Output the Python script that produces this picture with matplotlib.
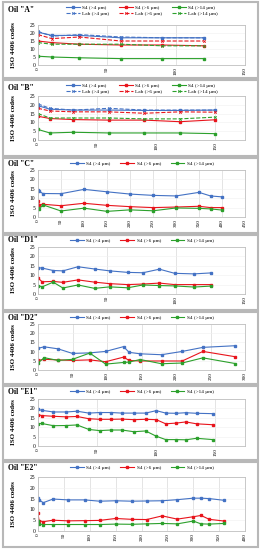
import matplotlib
matplotlib.use("Agg")
import matplotlib.pyplot as plt
from matplotlib.patches import Rectangle
import numpy as np

plt.rcParams['font.family'] = ['Liberation Serif', 'DejaVu Serif']

# ---- data ----
# Oil A
xA = [0, 10, 30, 60, 90, 120]
A_s4_4 = [20.5, 18.5, 18.5, 17, 17, 17]
A_s4_6 = [15, 14, 13, 12.5, 12.5, 12]
A_s4_14 = [5.5, 5, 4.5, 4, 4, 4]
A_lab_4 = [21, 18, 19, 17.5, 17, 17]
A_lab_6 = [19, 16.5, 17.5, 15, 15, 15]
A_lab_14 = [14, 13, 13, 13, 12, 12]

# Oil B
xB = [0, 10, 30, 60, 90, 120, 150]
B_s4_4 = [19.5, 17.5, 17, 17, 16.8, 16.8, 17]
B_s4_6 = [13.5, 12.2, 11.6, 11.3, 11.3, 10.4, 11.5]
B_s4_14 = [6, 4, 4.4, 4, 4, 4, 3.6]
B_lab_4 = [20.5, 18, 17, 18, 17, 17, 17]
B_lab_6 = [18, 16.5, 16, 16, 15.2, 16, 15.8]
B_lab_14 = [15, 12.5, 12.5, 12.5, 12, 12, 13]

# Oil C
xC = [0, 3, 10, 50, 100, 150, 200, 250, 300, 350, 375, 400]
C_s4_4 = [14.2, 13.8, 12.5, 12.4, 14.7, 13.4, 12.2, 11.5, 11.2, 13.1, 11.2, 10.7]
C_s4_6 = [8.5, 6.5, 6.8, 6, 7.3, 6.2, 5.5, 5, 5.3, 5.7, 5, 5]
C_s4_14 = [5, 4, 6.5, 3.2, 4.7, 3, 3.8, 3.3, 4.8, 4.6, 4.3, 3.7]

# Oil D1
xD1 = [0, 3, 11, 18, 29, 41, 52, 65, 76, 88, 99, 113, 125]
D1_s4_4 = [14, 13.8, 12.5, 12.3, 14.5, 13.3, 12.3, 11.5, 11.3, 13.2, 11, 10.7, 11.2]
D1_s4_6 = [8.5, 6.5, 6.7, 6.2, 7.5, 6.3, 5.5, 5, 5.3, 5.8, 5, 5, 5]
D1_s4_14 = [4.5, 3.8, 6.3, 3.2, 4.8, 3, 3.8, 3.3, 4.8, 4.5, 4.3, 3.7, 4.2]

# Oil D2
xD2 = [0, 9, 29, 50, 75, 98, 124, 132, 148, 179, 209, 239, 286]
D2_s4_4 = [11.8, 12.6, 11.5, 9, 9.3, 10.1, 12.7, 9.6, 8.8, 8.3, 10.1, 12.3, 13.2]
D2_s4_6 = [5.2, 5.8, 5.5, 5.2, 5.5, 4.5, 7, 5.2, 4.9, 4.9, 4.9, 10.1, 7.2]
D2_s4_14 = [3.8, 6.7, 5.2, 5.8, 9.2, 3.2, 4.1, 4.3, 5.7, 3.4, 3.8, 6.6, 3.5]

# Oil E1
xE1 = [0, 3, 13, 24, 33, 43, 52, 62, 71, 81, 91, 100, 108, 117, 125, 134, 148]
E1_s4_4 = [19.5, 19, 18.1, 18.1, 18.5, 17.5, 17.8, 17.8, 17.5, 17.5, 17.5, 18.8,
           17.5, 17.4, 17.7, 17.4, 17.2]
E1_s4_6 = [16.7, 16.2, 15.8, 15.5, 15.7, 14.5, 14.2, 14.2, 14.3, 14, 14.2, 14,
           11.8, 12.2, 12.8, 11.8, 11.3]
E1_s4_14 = [11.8, 12, 10.8, 10.9, 11.2, 8.8, 8.2, 8.5, 8.5, 7.6, 8.0, 5.2,
            3.4, 3.4, 3.3, 4.1, 3.4]

# Oil E2
xE2 = [0, 2, 10, 29, 58, 90, 119, 150, 181, 210, 240, 269, 300, 315, 331, 360]
E2_s4_4 = [15.4, 14.5, 13.1, 14.8, 14.4, 14.4, 13.8, 14, 13.8, 13.9, 14, 14.5,
           15.2, 15.2, 15, 14.2]
E2_s4_6 = [8.2, 4.8, 4.3, 5, 4.7, 4.8, 4.9, 5.8, 5.4, 5.3, 7, 5.5, 6.6, 7.2, 5.4, 4.6]
E2_s4_14 = [4.8, 3.2, 3, 3, 3, 3, 3, 3.2, 3.1, 3.3, 3.5, 3.3, 4.6, 3.3, 3.2, 3.5]

titles = ['Oil "A"', 'Oil "B"', 'Oil "C"', 'Oil "D1"', 'Oil "D2"', 'Oil "E1"', 'Oil "E2"']
xmaxs = [150, 175, 450, 150, 300, 175, 400]
series = [
    (xA, A_s4_4, A_s4_6, A_s4_14, A_lab_4, A_lab_6, A_lab_14),
    (xB, B_s4_4, B_s4_6, B_s4_14, B_lab_4, B_lab_6, B_lab_14),
    (xC, C_s4_4, C_s4_6, C_s4_14),
    (xD1, D1_s4_4, D1_s4_6, D1_s4_14),
    (xD2, D2_s4_4, D2_s4_6, D2_s4_14),
    (xE1, E1_s4_4, E1_s4_6, E1_s4_14),
    (xE2, E2_s4_4, E2_s4_6, E2_s4_14),
]

# layout in pixels: (box top, box bottom, plot top, plot bottom)
W, H = 261, 550
boxes = [(2, 78, 25, 65), (80, 156, 96, 140), (158, 233, 170, 217),
         (235, 310, 247, 294), (312, 384, 324, 370), (386, 460, 399, 446),
         (462, 547, 477, 531)]
left_px, right_px = 38, 245

blue, red, green = '#4472c4', '#e8141c', '#2ca02c'
labels_s4 = ['S4 (>4 µm)', 'S4 (>6 µm)', 'S4 (>14 µm)']
labels_lab = ['Lab (>4 µm)', 'Lab (>6 µm)', 'Lab (>14 µm)']

fig = plt.figure(figsize=(W / 100, H / 100), dpi=100)

for i, (bt, bb, pt, pb) in enumerate(boxes):
    fig.patches.append(Rectangle((3 / W, 1 - bb / H), (W - 6) / W, (bb - bt) / H,
                                 transform=fig.transFigure, fill=False,
                                 edgecolor='#b8b8b8', linewidth=1.5))
    ax = fig.add_axes([left_px / W, 1 - pb / H, (right_px - left_px) / W, (pb - pt) / H])
    data = series[i]
    x = data[0]
    handles = []
    for vals, c, lab in zip(data[1:4], (blue, red, green), labels_s4):
        h, = ax.plot(x, vals, '-', color=c, lw=0.8, marker='s', ms=1.5, label=lab)
        handles.append(h)
    two_rows = len(data) > 4
    if two_rows:
        for k, (vals, c, lab) in enumerate(zip(data[4:7], (blue, red, green), labels_lab)):
            h, = ax.plot(x, vals, '--', color=c, lw=0.8, marker='x', ms=1.8,
                         mew=0.6, label=lab)
            handles.insert(2 * k + 1, h)
    ax.set_xlim(0, xmaxs[i])
    ax.set_ylim(0, 25)
    ax.set_xticks(np.arange(0, xmaxs[i] + 1, 50))
    ax.set_yticks(np.arange(0, 26, 5))
    ax.tick_params(axis='x', labelsize=3.8, rotation=90, length=0, pad=1.5)
    ax.tick_params(axis='y', labelsize=4, length=0, pad=2)
    ax.grid(axis='x', color='#d9d9d9', lw=0.5)
    ax.grid(axis='y', color='#efefef', lw=0.4)
    ax.set_axisbelow(True)
    for sp in ax.spines.values():
        sp.set_color('#bfbfbf')
        sp.set_linewidth(0.6)
    ax.set_ylabel('ISO 4406 codes', fontsize=5, fontweight='bold')
    ax.yaxis.set_label_coords(-0.105, 0.5)
    title_y = 1 - (bt + (8 if two_rows else 5.5)) / H
    fig.text(8 / W, title_y, titles[i], fontsize=5.5, fontweight='bold',
             va='center', ha='left')
    leg_y = 1 - (bt + (8.5 if two_rows else 5.5)) / H
    ax.legend(handles=handles, ncol=3, loc='center', fontsize=3.8,
              bbox_to_anchor=(142 / W, leg_y), bbox_transform=fig.transFigure,
              frameon=False, handlelength=2.6, columnspacing=1.8,
              handletextpad=0.5, labelspacing=0.3, borderpad=0)

fig.savefig('out.png', dpi=100)
